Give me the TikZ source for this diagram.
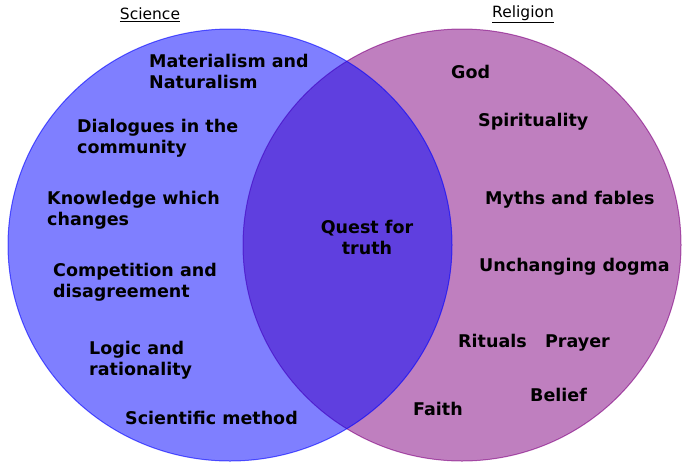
\documentclass[tikz,border=0pt]{standalone}
\usepackage{fontspec}
\setmainfont{DejaVu Sans}
\usetikzlibrary{positioning}
\definecolor{sciblue}{RGB}{0,0,255}
\definecolor{relpurple}{RGB}{128,0,128}

\begin{document}
\begin{tikzpicture}[x=1pt, y=-1pt, node distance = 1cm and 20pt,
    item/.style = {anchor=west, inner sep=0pt, align=left,
      font=\bfseries\fontsize{17.5}{21}\selectfont},
    word/.style = {item, text height=13.3pt, text depth=0.5pt},
    title/.style = {inner sep=0pt, font=\fontsize{15.5}{18}\selectfont}
    ]
    \useasboundingbox (0,0) rectangle (682,464);
    \fill[relpurple, fill opacity=0.5] (462,245) ellipse [x radius=219, y radius=216];
    \draw[relpurple, draw opacity=0.6, line width=1pt] (462,245) ellipse [x radius=219, y radius=216];
    \fill[sciblue, fill opacity=0.5] (230,245) ellipse [x radius=222, y radius=216];
    \draw[sciblue, draw opacity=0.6, line width=1pt] (230,245) ellipse [x radius=222, y radius=216];
    \node (science) [title] at (150,15) {\underline{Science}};
    \node (religion) [title] at (523,14) {\underline{Religion}};
    \node (materialism) [item] at (149,71) {Materialism and\\Naturalism};
    \node (dialogues) [item] at (77,138) {Dialogues in the\\community};
    \node (knowledge) [item] at (47,210) {Knowledge which\\changes};
    \node (competition) [item] at (53,282) {Competition and\\disagreement};
    \node (logic) [item] at (89,360) {Logic and\\rationality};
    \node (method) [word] at (125,418) {Scientific method};
    \node (quest) [item, anchor=center, align=center] at (367,237) {Quest for\\truth};
    \node (god) [word] at (451,72) {God};
    \node (spirituality) [word] at (478,120) {Spirituality};
    \node (myths) [word] at (485,198) {Myths and fables};
    \node (dogma) [word] at (479,265) {Unchanging dogma};
    \node (rituals) [word] at (458,341) {Rituals};
    \node (prayer) [word, right = 18pt of rituals.east, anchor=west] {Prayer};
    \node (faith) [word] at (413,409) {Faith};
    \node (belief) [word] at (530,395) {Belief};
\end{tikzpicture}
\end{document}
